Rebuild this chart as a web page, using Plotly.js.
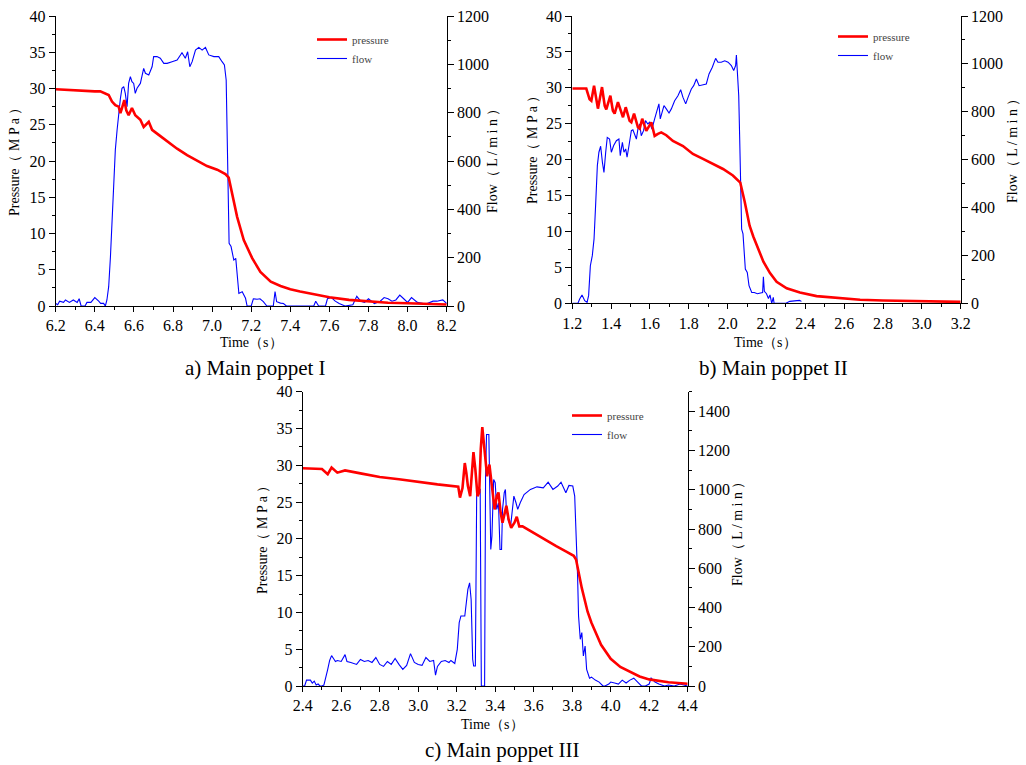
<!DOCTYPE html>
<html>
<head>
<meta charset="utf-8">
<script src="https://cdn.plot.ly/plotly-3.0.1.min.js"></script>
<style>html,body{margin:0;padding:0;background:#fff;}#chart{width:1026px;height:765px;}</style>
</head>
<body>
<div id="chart"></div>
<script>
// ---------- a) Main poppet I ----------
const tPa = [6.20,6.25,6.30,6.35,6.40,6.428,6.471,6.488,6.505,6.522,6.531,6.539,6.551,6.561,6.573,6.59,6.607,6.633,6.65,6.676,6.693,6.727,6.77,6.821,6.872,6.923,6.974,7.026,7.068,7.085,7.102,7.128,7.162,7.205,7.247,7.30,7.35,7.40,7.45,7.50,7.60,7.70,7.80,7.90,8.00,8.10,8.20];
const pPa = [29.9,29.8,29.7,29.6,29.6,29.6,29.1,28.2,27.7,27.5,26.6,27.3,28.4,27.0,26.3,27.3,26.3,25.7,24.7,25.4,24.3,23.6,22.7,21.7,20.8,20.1,19.3,18.8,18.2,17.7,15.5,12.3,9.1,6.6,4.7,3.35,2.75,2.3,2.0,1.75,1.2,0.85,0.6,0.45,0.37,0.28,0.2];
const tFa = [6.20,6.21,6.22,6.24,6.25,6.27,6.29,6.31,6.32,6.33,6.35,6.36,6.38,6.39,6.40,6.42,6.43,6.445,6.454,6.462,6.471,6.48,6.488,6.497,6.505,6.514,6.522,6.531,6.539,6.548,6.556,6.565,6.573,6.582,6.59,6.599,6.607,6.616,6.633,6.65,6.659,6.676,6.693,6.701,6.718,6.735,6.753,6.77,6.795,6.821,6.846,6.863,6.875,6.886,6.898,6.915,6.932,6.949,6.966,6.983,7.009,7.034,7.051,7.063,7.072,7.077,7.082,7.087,7.097,7.111,7.121,7.128,7.137,7.154,7.171,7.179,7.20,7.211,7.23,7.245,7.262,7.28,7.313,7.322,7.33,7.35,7.365,7.38,7.45,7.52,7.53,7.545,7.58,7.59,7.61,7.63,7.65,7.68,7.72,7.74,7.76,7.78,7.80,7.83,7.86,7.88,7.90,7.92,7.94,7.96,7.98,8.00,8.02,8.05,8.08,8.10,8.13,8.15,8.18,8.20];
const qFa = [10,5,20,15,25,15,25,15,30,0,0,15,15,25,35,20,11,11,0,25,80,204,370,521,646,728,797,859,901,908,880,825,921,949,928,921,880,901,921,983,963,956,990,1032,1032,1025,1004,1004,1011,1018,1048,1025,1052,990,1011,1059,1070,1059,1070,1039,1032,1032,1011,997,935,756,480,259,246,190,197,135,52,59,32,0,0,30,28,30,18,0,0,60,18,12,10,0,0,0,20,0,0,30,35,20,10,0,5,40,20,15,30,10,20,35,30,20,25,45,30,15,35,15,10,10,20,20,25,10];

// ---------- b) Main poppet II ----------
const tPb = [1.20,1.25,1.272,1.289,1.298,1.312,1.324,1.332,1.353,1.367,1.375,1.396,1.409,1.418,1.435,1.452,1.461,1.475,1.495,1.504,1.518,1.538,1.547,1.56,1.581,1.607,1.624,1.641,1.658,1.684,1.718,1.77,1.821,1.873,1.924,1.976,2.027,2.053,2.065,2.088,2.113,2.132,2.158,2.184,2.218,2.252,2.304,2.372,2.458,2.561,2.682,2.80,2.94,3.08,3.20];
const pPb = [29.9,29.9,29.9,28.4,28.2,30.3,28.2,27.1,30.1,27.5,27.0,28.9,26.8,26.4,28.0,26.4,25.9,27.3,25.4,25.2,26.4,24.5,24.3,25.7,24.0,25.2,23.3,23.6,23.8,23.4,22.6,21.9,20.8,20.1,19.4,18.7,17.8,17.1,16.8,14.1,10.8,9.3,7.4,5.8,4.2,3.0,2.1,1.5,1.0,0.75,0.5,0.4,0.3,0.25,0.2];
const tFb = [1.20,1.229,1.238,1.25,1.264,1.276,1.284,1.293,1.303,1.312,1.32,1.329,1.337,1.346,1.355,1.363,1.372,1.38,1.392,1.401,1.413,1.427,1.44,1.447,1.458,1.466,1.475,1.482,1.492,1.504,1.512,1.521,1.53,1.538,1.547,1.555,1.567,1.577,1.589,1.598,1.61,1.624,1.636,1.646,1.653,1.664,1.672,1.684,1.698,1.71,1.727,1.744,1.758,1.77,1.784,1.796,1.813,1.825,1.839,1.853,1.873,1.89,1.904,1.921,1.938,1.95,1.967,1.985,2.002,2.019,2.031,2.041,2.045,2.05,2.057,2.062,2.067,2.072,2.079,2.084,2.091,2.101,2.11,2.124,2.137,2.153,2.17,2.18,2.184,2.189,2.20,2.21,2.218,2.227,2.235,2.239,2.26,2.30,2.32,2.35,2.37,2.38];
const qFb = [0,0,18,35,11,4,32,157,199,269,408,575,631,656,589,547,631,693,686,631,659,679,686,617,672,631,645,610,659,721,725,700,686,728,749,700,721,763,749,756,728,770,805,833,770,798,826,812,795,812,846,867,892,860,833,860,895,909,937,909,912,916,958,986,1023,1007,1007,1013,1007,993,972,993,1037,965,867,686,478,310,290,241,143,129,74,45,45,40,45,45,111,50,40,20,35,0,25,0,0,0,8,10,12,8];

// ---------- c) Main poppet III ----------
const tPc = [2.40,2.50,2.53,2.55,2.58,2.62,2.70,2.80,2.90,3.00,3.10,3.208,3.217,3.23,3.242,3.25,3.258,3.27,3.28,3.287,3.297,3.308,3.317,3.325,3.333,3.342,3.35,3.358,3.37,3.378,3.388,3.397,3.408,3.417,3.428,3.438,3.458,3.47,3.483,3.50,3.512,3.525,3.542,3.567,3.617,3.667,3.717,3.767,3.808,3.82,3.85,3.88,3.90,3.95,4.00,4.05,4.10,4.15,4.20,4.30,4.40];
const pPc = [29.6,29.5,28.8,29.7,29.0,29.3,28.9,28.4,28.1,27.7,27.4,27.1,25.6,26.9,30.3,29.0,27.2,25.8,29.9,31.8,29.4,25.8,26.3,32.2,35.2,33.0,30.3,28.5,30.1,28.5,25.8,24.0,25.8,26.3,23.6,22.2,24.5,22.6,21.5,22.2,23.0,21.7,21.7,21.3,20.5,19.7,19.0,18.3,17.7,17.2,13.3,10.1,8.6,5.6,3.7,2.6,1.9,1.3,0.9,0.5,0.3];
const tFc = [2.40,2.41,2.42,2.44,2.45,2.46,2.47,2.48,2.49,2.50,2.51,2.52,2.53,2.54,2.55,2.56,2.57,2.58,2.60,2.62,2.63,2.65,2.68,2.70,2.72,2.74,2.76,2.78,2.80,2.82,2.84,2.86,2.88,2.90,2.92,2.94,2.96,2.98,3.00,3.02,3.04,3.06,3.08,3.09,3.10,3.12,3.14,3.16,3.17,3.19,
  3.203,3.213,3.222,3.242,3.25,3.258,3.267,3.275,3.283,3.288,3.297,3.30,3.304,3.322,3.326,3.328,3.345,3.35,3.355,3.367,3.372,3.377,3.383,3.392,3.40,3.408,3.417,3.425,3.433,3.438,3.447,3.453,3.458,3.467,3.48,3.488,3.497,3.508,3.517,3.53,3.55,3.583,3.617,3.65,3.675,3.70,3.725,3.742,3.767,3.783,3.803,3.813,3.82,3.828,3.833,3.842,3.85,3.858,3.867,3.875,3.89,3.90,3.92,3.94,3.96,3.97,3.99,
  4.00,4.02,4.04,4.06,4.08,4.10,4.12,4.14,4.16,4.18,4.20,4.21,4.23,4.25,4.28,4.30,4.33,4.36,4.40];
const qFc = [0,0,30,30,15,25,5,10,0,0,5,40,85,130,155,140,125,130,125,160,125,120,110,135,125,130,120,145,110,100,125,110,140,110,85,105,165,120,110,105,145,125,130,55,100,125,130,120,130,115,
  187,323,357,357,424,492,526,441,136,102,102,500,1002,1002,500,0,0,1070,1282,1282,985,696,764,1053,1036,900,934,696,696,900,985,1002,900,849,815,900,968,934,900,934,976,1002,1015,1010,1039,1002,1019,1039,985,1022,1019,968,815,560,357,238,272,153,204,85,40,45,30,20,0,0,10,
  20,15,10,30,15,30,40,20,0,0,10,40,20,10,0,5,0,10,0];

// ---------- labels ----------
const legendNames = ['pressure', 'flow'];
const captions = ['a) Main poppet I', 'b) Main poppet II', 'c) Main poppet III'];
const xTitle = 'Time（s）';
const yLeftTitle = 'Pressure（ M P a ）';
const yRightTitle = 'Flow（ L / m i n ）';

const RED = '#ff0000', BLUE = '#0000ff';
const SERIF = 'Liberation Serif';
const W = 1026, H = 765;
const px = v => v / W;
const py = v => 1 - v / H;
const tickFont = () => ({family: SERIF, size: 16, color: '#000'});

function xAx(dom, range, anchor) {
  return {domain: dom, range: range, anchor: anchor, dtick: 0.2, tick0: range[0], tickformat: '.1f',
    ticks: 'outside', ticklen: 5, tickcolor: '#000', tickwidth: 1,
    minor: {dtick: 0.1, ticks: 'outside', ticklen: 3, tickcolor: '#000', tickwidth: 1, showgrid: false},
    showline: true, linecolor: '#000', linewidth: 1, showgrid: false, zeroline: false,
    tickfont: tickFont(), automargin: false, fixedrange: true};
}
function yAx(dom, range, anchor, dt, mdt, side, overlay) {
  const o = {range: range, anchor: anchor, dtick: dt, tick0: 0, side: side,
    ticks: 'outside', ticklen: 6, tickcolor: '#000', tickwidth: 1,
    minor: {dtick: mdt, ticks: 'outside', ticklen: 3, tickcolor: '#000', tickwidth: 1, showgrid: false},
    showline: true, linecolor: '#000', linewidth: 1, showgrid: false, zeroline: false,
    tickfont: tickFont(), automargin: false, fixedrange: true};
  if (overlay) o.overlaying = overlay; else o.domain = dom;
  return o;
}

const dA = {x: [px(55.7), px(446.7)], y: [py(306), py(16)]};
const dB = {x: [px(572.3), px(960.7)], y: [py(303.3), py(16)]};
const dC = {x: [px(302.7), px(687.7)], y: [py(686), py(391.7)]};

function flowTrace(x, y, xa, ya, lg) {
  return {x: x, y: y, xaxis: xa, yaxis: ya, type: 'scatter', mode: 'lines', line: {color: BLUE, width: 1.1},
    name: legendNames[1], legend: lg, legendrank: 2};
}
function presTrace(x, y, xa, ya, lg) {
  return {x: x, y: y, xaxis: xa, yaxis: ya, type: 'scatter', mode: 'lines', line: {color: RED, width: 2.6},
    name: legendNames[0], legend: lg, legendrank: 1};
}

const traces = [
  flowTrace(tFa, qFa, 'x', 'y', 'legend'),
  presTrace(tPa, pPa, 'x', 'y2', 'legend'),
  flowTrace(tFb, qFb, 'x2', 'y3', 'legend2'),
  presTrace(tPb, pPb, 'x2', 'y4', 'legend2'),
  flowTrace(tFc, qFc, 'x3', 'y5', 'legend3'),
  presTrace(tPc, pPc, 'x3', 'y6', 'legend3')
];

function leg(x, y) {
  return {x: px(x), y: py(y), xanchor: 'left', yanchor: 'top',
    font: {family: SERIF, size: 11, color: '#444'}, bgcolor: 'rgba(0,0,0,0)',
    borderwidth: 0, tracegroupgap: 0, itemwidth: 30, traceorder: 'normal'};
}

function ann(text, x, y, size, angle) {
  return {text: text, x: px(x), y: py(y), xref: 'paper', yref: 'paper', showarrow: false,
    xanchor: 'center', yanchor: 'middle', font: {family: SERIF, size: size, color: '#000'}, textangle: angle || 0};
}

const layout = {
  width: W, height: H, margin: {l: 0, r: 0, t: 0, b: 0},
  paper_bgcolor: '#fff', plot_bgcolor: 'rgba(0,0,0,0)',
  showlegend: true,
  xaxis: xAx(dA.x, [6.2, 8.2], 'y'),
  yaxis: yAx(dA.y, [0, 1200], 'x', 200, 100, 'right'),
  yaxis2: yAx(dA.y, [0, 40], 'x', 5, 2.5, 'left', 'y'),
  xaxis2: xAx(dB.x, [1.2, 3.2], 'y3'),
  yaxis3: yAx(dB.y, [0, 1200], 'x2', 200, 100, 'right'),
  yaxis4: yAx(dB.y, [0, 40], 'x2', 5, 2.5, 'left', 'y3'),
  xaxis3: xAx(dC.x, [2.4, 4.4], 'y5'),
  yaxis5: yAx(dC.y, [0, 1500], 'x3', 200, 100, 'right'),
  yaxis6: yAx(dC.y, [0, 40], 'x3', 5, 2.5, 'left', 'y5'),
  legend: leg(312, 25),
  legend2: leg(833, 22),
  legend3: leg(567, 401),
  annotations: [
    ann(captions[0], 255, 368, 21),
    ann(captions[1], 773, 368, 21),
    ann(captions[2], 502, 750, 21),
    ann(xTitle, 251, 342, 14),
    ann(xTitle, 765, 342, 14),
    ann(xTitle, 492, 724, 14),
    ann(yLeftTitle, 14, 159, 14, -90),
    ann(yLeftTitle, 532, 147, 14, -90),
    ann(yLeftTitle, 262, 537, 14, -90),
    ann(yRightTitle, 493, 157, 14, -90),
    ann(yRightTitle, 1012, 147, 14, -90),
    ann(yRightTitle, 737, 530, 14, -90)
  ]
};

Plotly.newPlot('chart', traces, layout, {staticPlot: true, displayModeBar: false});
</script>
</body>
</html>
